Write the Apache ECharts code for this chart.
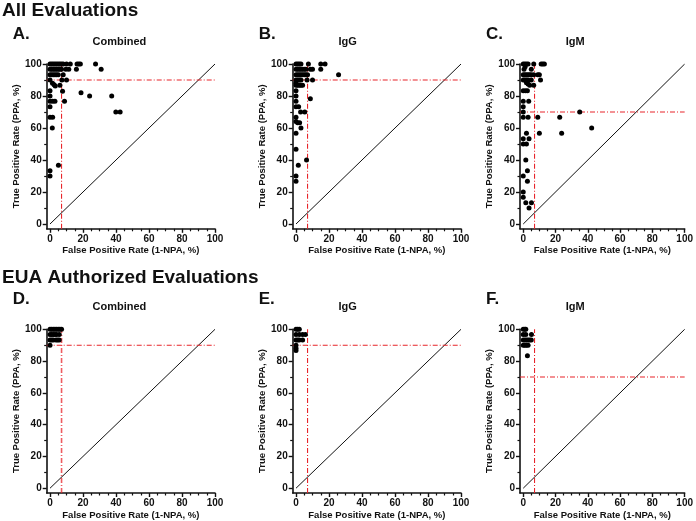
<!DOCTYPE html>
<html><head><meta charset="utf-8">
<script src="https://cdn.jsdelivr.net/npm/echarts/dist/echarts.min.js"></script>
<style>html,body{margin:0;padding:0;background:#fff}#c{width:696px;height:521px}</style>
</head><body><div id="c"></div>
<script>
// ---- Data (FPR x, TPR y) ----
const aX = [0,1,2,3,4,5,6,7,8,10,12.3,16.4,17.4,18.4,27.6, 0,1,2,3,4,5,6,7,9.6,11.4,16,31, 0,1,2,3,4,5,8, 0,7.2,10, 1.5,2.5,3.2,6, 0,7.6, 18.8,24,37.4,0, 0,1.6,3,8.8, 0, 0,1.6, 1.4, 39.9,42.5, 5.1,0,0];
const aY = [100,100,100,100,100,100,100,100,100,100,100,100,100,100,100, 96.7,96.7,96.7,96.7,96.7,96.7,96.7,96.7,96.7,96.7,96.7,96.7, 93.3,93.3,93.3,93.3,93.3,93.3,93.3, 90,90,90, 88,87,86.2,86.7, 83.3,83, 82,80,80,80, 76.7,76.7,76.7,76.7, 73.3, 66.7,66.7, 60, 70,70, 36.7,33.3,30];

const bX = [0,1,2,3,7.5,15,17.6, 0,1,2,3,4,5,6,8.7,10,15, 0,1,2,3,4,5,6,7,25.8, 0,1,2,3,6.7,10, 0, 0,1,2,3,4, 0,0,8.7,0,0,1.6,2.8,5.3,0,0,1,2.2,3,0,0,6.4,1.4,0,0];
const bY = [100,100,100,100,100,100,100, 96.7,96.7,96.7,96.7,96.7,96.7,96.7,96.7,96.7,96.7, 93.3,93.3,93.3,93.3,93.3,93.3,93.3,93.3,93.3, 90,90,90,90,90,90, 88, 86.7,86.7,86.7,86.7,86.7, 83.3,80,78.3,76.7,73.3,73.3,70,70,66.7,64,63.3,63.3,60,56.7,46.7,40,36.7,30,26.7];

const cX = [0,1,2,3,6.5,11.1,12.1,13.1, 0.5,1.2,5, 0,1,2,3,4,5,6.5,9,10, 0,1,2,3,5,10.7, 2,3,4,6.5, 0,1.4,2.6, 0,3.4, 0,0,35, 0,3,9,22.6, 2,10,23.8,42.4, 0,3.6,0,2, 1.6,2.6,0,2.6,0,0,1.6,5.1,3.6];
const cY = [100,100,100,100,100,100,100,100, 96.7,98.3,96.7, 93.3,93.3,93.3,93.3,93.3,93.3,93.3,93.3,93.3, 90,90,90,90,90,90, 88.3,87.5,86.7,86.7, 83.3,83.3,83.3, 76.7,76.7, 73.3,70,70, 66.7,66.7,66.7,66.7, 56.7,56.7,56.7,60, 53.3,53.3,50,50, 40,33.3,30,26.7,20,16.7,13.3,13.3,10];

const dX = [0,1,2,3,4,5,6,7, 0,1,2,3,4,5.6, 0,1,2,3.6,4.6,5.6, 0];
const dY = [100,100,100,100,100,100,100,100, 96.7,96.7,96.7,96.7,96.7,96.7, 93.3,93.3,93.3,93.3,93.3,93.3, 90];

const eX = [0,1,2, 0,2,4,5.7, 0,1,2,4, 0,0,0];
const eY = [100,100,100, 96.7,96.7,96.7,96.7, 93.3,93.3,93.3,93.3, 90,88,86.7];

const fX = [0,1,1.6, 0,1.6,5.1, 0,1,2,3,4,5, 0,1,2,3, 2.6];
const fY = [100,100,100, 96.7,96.7,96.7, 93.3,93.3,93.3,93.3,93.3,93.3, 90,90,90,90, 83.3];

const panelTitles = ['Combined','IgG','IgM','Combined','IgG','IgM'];
const panelLetters = ['A.','B.','C.','D.','E.','F.'];
const hLineY = [90,90,70,90,90,70];   // PPA threshold
const vLineX = 7;                      // FPR threshold
const xTicks = [0,20,40,60,80,100];
const yTicks = [0,20,40,60,80,100];
const xMinorTicks = [5,10,15,25,30,35,45,50,55,65,70,75,85,90,95];
const yMinorTicks = [10,30,50,70,90];
const xName = 'False Positive Rate (1-NPA, %)';
const yName = 'True Positive Rate (PPA, %)';

// ---- Layout ----
const FONT = '"Liberation Sans", Arial, sans-serif';
const xs = [aX,bX,cX,dX,eX,fX], ys = [aY,bY,cY,dY,eY,fY];
const lefts = [46.7,292.7,520,46.7,292.7,520];
const tops = [64,64,64,329.3,329.3,329.3];
const W = 168.3, H = 164.8;
const XMIN = -2, YMIN = -3;

const grid = [], xAxis = [], yAxis = [], series = [], graphic = [];
for (let i = 0; i < 6; i++) {
  grid.push({left: lefts[i], top: tops[i], width: W, height: H});
  const common = {gridIndex: i, type: 'value', splitLine: {show: false}};
  xAxis.push(Object.assign({}, common, {
    min: XMIN, max: 100, position: 'bottom',
    axisLine: {show: true, onZero: false, lineStyle: {color: '#111', width: 1.6}},
    axisTick: {show: true, customValues: xTicks, length: 4, lineStyle: {color: '#111', width: 1.4}},
    axisLabel: {customValues: xTicks, color: '#111', fontWeight: 'bold', fontSize: 10, fontFamily: FONT, margin: 5},
    name: xName, nameLocation: 'middle', nameGap: 17,
    nameTextStyle: {color: '#111', fontWeight: 'bold', fontSize: 9.5, fontFamily: FONT}
  }));
  xAxis.push(Object.assign({}, common, {
    min: XMIN, max: 100, position: 'bottom', offset: 0,
    axisLine: {show: true, onZero: false, lineStyle: {color: '#111', width: 0, opacity: 0}},
    axisTick: {show: true, customValues: xMinorTicks, length: 2.5, lineStyle: {color: '#111', width: 1.2}},
    axisLabel: {show: false}
  }));
  yAxis.push(Object.assign({}, common, {
    min: YMIN, max: 100, position: 'left',
    axisLine: {show: true, onZero: false, lineStyle: {color: '#111', width: 1.6}},
    axisTick: {show: true, customValues: yTicks, length: 4, lineStyle: {color: '#111', width: 1.4}},
    axisLabel: {customValues: yTicks, color: '#111', fontWeight: 'bold', fontSize: 10, fontFamily: FONT, margin: 5},
    name: yName, nameLocation: 'middle', nameGap: 17, nameRotate: 90,
    nameTextStyle: {color: '#111', fontWeight: 'bold', fontSize: 9.5, fontFamily: FONT}
  }));
  yAxis.push(Object.assign({}, common, {
    min: YMIN, max: 100, position: 'left', offset: 0,
    axisLine: {show: true, onZero: false, lineStyle: {color: '#111', width: 0, opacity: 0}},
    axisTick: {show: true, customValues: yMinorTicks, length: 2.5, lineStyle: {color: '#111', width: 1.2}},
    axisLabel: {show: false}
  }));
  const xi = 2 * i, yi = 2 * i;
  series.push({type: 'line', xAxisIndex: xi, yAxisIndex: yi, data: [[0,0],[100,100]], symbol: 'none', silent: true,
    lineStyle: {color: '#111', width: 1}, z: 2});
  series.push({type: 'line', xAxisIndex: xi, yAxisIndex: yi, data: [[vLineX, YMIN],[vLineX,100]], symbol: 'none', silent: true,
    lineStyle: {color: '#e8242a', width: i === 3 ? 1.6 : 1.1, type: [5,2,1,2], opacity: i === 3 ? 0.75 : 1}, z: 3});
  series.push({type: 'line', xAxisIndex: xi, yAxisIndex: yi, data: [[XMIN, hLineY[i]],[100, hLineY[i]]], symbol: 'none', silent: true,
    lineStyle: {color: '#e8242a', width: 1.1, type: [5,2,1,2]}, z: 3});
  series.push({type: 'scatter', xAxisIndex: xi, yAxisIndex: yi, clip: false,
    data: xs[i].map((v, k) => [v, ys[i][k]]), symbol: 'circle', symbolSize: 5,
    itemStyle: {color: '#000', opacity: 1}, z: 5});
  // panel title & letter
  graphic.push({type: 'text', left: lefts[i] + 3.3 + 82.5 - 40, top: tops[i] - 28, style: {
    text: panelTitles[i], font: 'bold 11px ' + FONT, fill: '#111', width: 80, align: 'center'}});
  graphic.push({type: 'text', left: lefts[i] - 34, top: tops[i] - 38, style: {
    text: panelLetters[i], font: 'bold 17px ' + FONT, fill: '#111'}});
}
graphic.push({type: 'text', left: 2, top: 1, style: {text: 'All Evaluations', font: 'bold 19px ' + FONT, fill: '#111'}});
graphic.push({type: 'text', left: 2, top: 268, style: {text: 'EUA Authorized Evaluations', font: 'bold 19px ' + FONT, fill: '#111'}});

const chart = echarts.init(document.getElementById('c'), null, {renderer: 'canvas'});
chart.setOption({animation: false, backgroundColor: '#fff', grid, xAxis, yAxis, series, graphic});
</script></body></html>
